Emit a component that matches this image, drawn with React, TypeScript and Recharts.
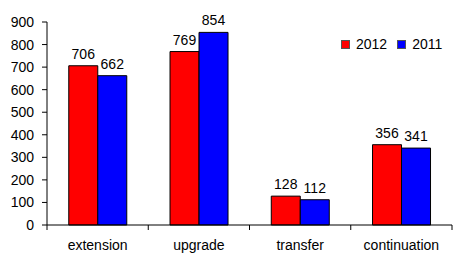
import React from 'react';
import { BarChart, Bar, XAxis, YAxis, LabelList, Legend } from 'recharts';

const categories = ['extension', 'upgrade', 'transfer', 'continuation'];
const values2012 = [706, 769, 128, 356];
const values2011 = [662, 854, 112, 341];
const yTicks = [0, 100, 200, 300, 400, 500, 600, 700, 800, 900];

const data = categories.map((name, i) => ({ name, y2012: values2012[i], y2011: values2011[i] }));

const W = 453;
const H = 255;
const LEFT = 47;
const RIGHT = 1;
const BAND = (W - LEFT - RIGHT) / categories.length;
const FONT = '"Liberation Sans", Arial, sans-serif';

// category labels centred, tick marks on the band edges
const CategoryTick = (props: any) => {
  const { x, y, payload, index } = props;
  const left = x - BAND / 2;
  const top = y - 8;
  return (
    <g>
      <line x1={left} y1={top} x2={left} y2={top + 5} stroke="#000" />
      {index === categories.length - 1 && (
        <line x1={x + BAND / 2} y1={top} x2={x + BAND / 2} y2={top + 5} stroke="#000" />
      )}
      <text x={x} y={y + 17} textAnchor="middle" fontSize={14} fontFamily={FONT} fill="#000">
        {payload.value}
      </text>
    </g>
  );
};

const LegendBox = () => (
  <div style={{ display: 'flex', alignItems: 'center', fontFamily: FONT, fontSize: 14, color: '#000' }}>
    <span style={{ width: 7, height: 7, background: '#ff0000', border: '1px solid #555', marginRight: 6 }} />
    <span style={{ marginRight: 10 }}>2012</span>
    <span style={{ width: 7, height: 7, background: '#0000ff', border: '1px solid #555', marginRight: 6 }} />
    <span>2011</span>
  </div>
);

export default function App() {
  return (
    <div style={{ position: 'fixed', left: 0, top: 0, width: W, height: H, background: '#fff' }}>
      <BarChart
        width={W}
        height={H}
        data={data}
        margin={{ top: 22, right: RIGHT, left: 0, bottom: 0 }}
        barCategoryGap="21.5%"
        barGap={0}
      >
        <XAxis
          dataKey="name"
          height={30}
          axisLine={{ stroke: '#000' }}
          tickLine={false}
          tick={<CategoryTick />}
          interval={0}
        />
        <YAxis
          width={LEFT}
          domain={[0, 900]}
          ticks={yTicks}
          interval={0}
          axisLine={{ stroke: '#000' }}
          tickLine={{ stroke: '#000' }}
          tickSize={5}
          tickMargin={8}
          tick={{ fill: '#000', fontSize: 14, fontFamily: FONT }}
        />
        <Legend
          layout="horizontal"
          verticalAlign="middle"
          align="center"
          content={<LegendBox />}
          wrapperStyle={{ position: 'absolute', top: 36, left: 341, width: 112 }}
        />
        <Bar dataKey="y2012" fill="#ff0000" stroke="#000" strokeWidth={1} isAnimationActive={false}>
          <LabelList dataKey="y2012" position="top" offset={7} fill="#000" fontSize={14} fontFamily={FONT} />
        </Bar>
        <Bar dataKey="y2011" fill="#0000ff" stroke="#000" strokeWidth={1} isAnimationActive={false}>
          <LabelList dataKey="y2011" position="top" offset={7} fill="#000" fontSize={14} fontFamily={FONT} />
        </Bar>
      </BarChart>
    </div>
  );
}
